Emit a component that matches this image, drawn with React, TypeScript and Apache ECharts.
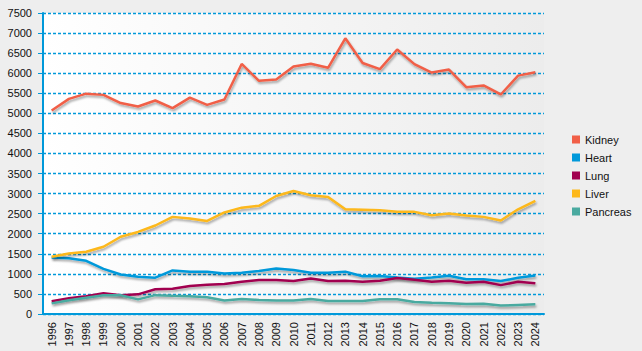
import React, { useEffect, useRef } from "react";
import * as echarts from "echarts";

const years = ["1996","1997","1998","1999","2000","2001","2002","2003","2004","2005","2006","2007","2008","2009","2010","2011","2012","2013","2014","2015","2016","2017","2018","2019","2020","2021","2022","2023","2024"];
const kidney = [5070,5360,5490,5460,5255,5170,5320,5130,5390,5210,5345,6230,5810,5845,6165,6235,6135,6870,6255,6100,6590,6225,6015,6090,5650,5695,5470,5940,6025];
const heart = [1410,1390,1325,1125,985,930,905,1085,1055,1055,1010,1030,1070,1135,1095,1030,1030,1055,940,945,910,880,910,955,865,865,820,905,960];
const lung = [320,390,445,515,465,490,615,630,695,730,745,805,845,845,820,885,820,830,805,830,895,855,805,830,780,805,720,805,765];
const liver = [1425,1510,1550,1675,1925,2045,2205,2420,2380,2320,2530,2650,2695,2940,3065,2960,2915,2610,2600,2585,2545,2545,2460,2505,2455,2420,2330,2610,2820];
const pancreas = [265,345,405,465,465,365,470,455,445,415,335,375,350,335,335,375,325,325,325,365,365,300,280,265,250,255,210,225,240];

const seriesNames = ["Kidney","Heart","Lung","Liver","Pancreas"];
const seriesColors = ["#f15f47","#0099da","#a1004f","#fdb81a","#4aaaa0"];
const seriesData = [kidney, heart, lung, liver, pancreas];

export default function App() {
  const ref = useRef<HTMLDivElement>(null);
  useEffect(() => {
    document.body.style.margin = "0";
    const chart = echarts.init(ref.current!, undefined, { renderer: "svg" });
    const font = "Liberation Sans";
    chart.setOption({
      animation: false,
      backgroundColor: "#eeeeee",
      textStyle: { fontFamily: font },
      grid: {
        left: 43, right: 98, top: 13, bottom: 37,
        show: true, borderWidth: 0,
        backgroundColor: new echarts.graphic.LinearGradient(0, 0, 1, 0, [
          { offset: 0, color: "#ffffff" },
          { offset: 1, color: "#ececec" },
        ]),
      },
      legend: {
        orient: "vertical",
        left: 567, top: 129,
        itemWidth: 8, itemHeight: 8, itemGap: 7,
        icon: "rect",
        textStyle: { fontSize: 11, color: "#111", fontFamily: font },
        data: seriesNames,
      },
      xAxis: {
        type: "category",
        data: years,
        boundaryGap: true,
        axisLine: { lineStyle: { color: "#0099da", width: 2 } },
        axisTick: { alignWithLabel: true, length: 5, lineStyle: { color: "#0099da", width: 1 } },
        axisLabel: { rotate: 90, fontSize: 11, color: "#111", margin: 8, interval: 0, fontFamily: font },
        splitLine: { show: false },
      },
      yAxis: {
        type: "value",
        min: 0, max: 7500, interval: 500,
        axisLine: { show: true, lineStyle: { color: "#0099da", width: 2 } },
        axisTick: { show: true, length: 5, lineStyle: { color: "#0099da", width: 1 } },
        axisLabel: { fontSize: 11, color: "#111", margin: 11, fontFamily: font, formatter: (v: number) => String(v) },
        splitLine: { show: true, lineStyle: { color: "#0099da", type: [3, 2], width: 1.4 } },
      },
      series: seriesNames.map((name, i) => ({
        name,
        type: "line",
        data: seriesData[i],
        symbol: "none",
        color: seriesColors[i],
        lineStyle: {
          width: 2.5,
          color: seriesColors[i],
          shadowColor: "rgba(0,0,0,0.35)",
          shadowBlur: 2,
          shadowOffsetX: 1,
          shadowOffsetY: 2,
        },
      })),
    });
    return () => chart.dispose();
  }, []);
  return <div ref={ref} style={{ position: "absolute", left: 0, top: 0, width: 642, height: 351 }} />;
}
